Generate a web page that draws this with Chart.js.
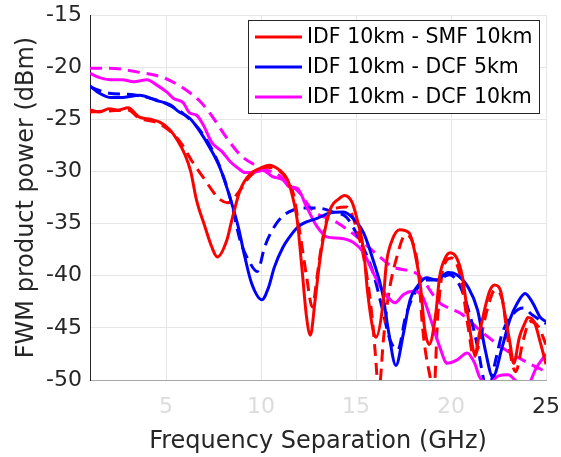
<!DOCTYPE html>
<html>
<head>
<meta charset="utf-8">
<script src="https://cdn.jsdelivr.net/npm/chart.js@4.4.0/dist/chart.umd.min.js"></script>
<style>
	html, body { margin: 0; padding: 0; background: #fff; }
</style>
</head>
<body>
<canvas id="graph-1" width="561" height="457"></canvas>
<script>
// IDF 10km - SMF 10km
const smfFreq = [1, 1.5, 2, 2.5, 3, 3.6, 4.2, 4.7, 5.2, 5.6, 6, 6.3, 6.6, 7.05, 7.4, 7.7, 8.2, 8.5, 8.9, 9.4, 9.95, 10.4, 11, 11.4, 11.7, 11.9, 12.15, 12.4, 12.6, 12.85, 13.1, 13.4, 13.7, 14.05, 14.4, 14.8, 15.1, 15.4, 15.6, 15.9, 16.05, 16.4, 16.6, 16.9, 17.3, 17.8, 18.1, 18.4, 18.6, 18.85, 19.2, 19.4, 19.7, 19.95, 20.3, 20.6, 20.85, 21.1, 21.25, 21.5, 21.8, 22.05, 22.3, 22.6, 22.8, 23.1, 23.3, 23.6, 23.9, 24.05, 24.4, 24.7, 25];
const smfPower = [-24.1, -24.3, -24.0, -24.1, -23.9, -24.8, -25.0, -25.3, -26.0, -27.0, -28.4, -30.0, -32.7, -35.3, -37.2, -38.2, -36.6, -34.4, -31.8, -30.3, -29.7, -29.4, -29.9, -30.8, -32.7, -34.6, -39.2, -44.0, -45.7, -42.3, -38.5, -35.3, -33.4, -32.7, -32.3, -33.0, -34.9, -37.5, -41.4, -45.2, -45.9, -43.0, -38.8, -36.6, -35.6, -35.9, -37.8, -41.1, -44.9, -46.6, -43.6, -40.1, -38.3, -37.8, -38.3, -40.1, -43.3, -46.4, -47.6, -45.5, -43.0, -41.4, -40.9, -41.4, -43.3, -46.4, -48.4, -45.9, -44.5, -44.0, -44.5, -46.4, -48.5];
const smfSimFreq = [1, 2, 3, 3.6, 4.5, 5.2, 5.8, 6.4, 7.05, 7.5, 7.85, 8.25, 8.9, 9.4, 10.3, 11, 11.4, 11.7, 12.05, 12.4, 12.7, 12.95, 13.2, 13.5, 14, 14.5, 15.05, 15.5, 15.85, 16, 16.2, 16.45, 16.7, 17.15, 17.6, 18, 18.3, 18.5, 18.9, 19.1, 19.3, 19.6, 20.05, 20.5, 20.9, 21.2, 21.5, 21.9, 22.3, 22.7, 23, 23.4, 23.8, 24.15, 24.6, 25];
const smfSimPower = [-24.3, -24.2, -24.1, -24.9, -25.3, -26.1, -27.3, -29.1, -30.8, -32.0, -32.7, -33.0, -31.8, -30.5, -29.6, -30.0, -30.9, -32.1, -35.9, -40.1, -43.0, -40.1, -36.9, -34.4, -33.5, -33.4, -35.6, -39.2, -44.0, -47.1, -51.0, -46.0, -42.0, -38.2, -36.1, -36.9, -39.8, -44.9, -49.7, -51.0, -44.0, -39.2, -38.3, -40.1, -44.9, -47.8, -46.4, -43.3, -41.4, -42.3, -46.2, -49.2, -46.2, -44.4, -44.9, -46.6];

// IDF 10km - DCF 5km
const dcf5Freq = [1, 1.5, 2.05, 2.75, 3.6, 4.5, 5.2, 5.7, 6.25, 6.8, 7.3, 7.85, 8.4, 8.8, 9.15, 9.5, 10.05, 10.4, 10.7, 11.15, 11.5, 11.9, 12.2, 12.95, 13.6, 14.3, 14.8, 15.4, 15.9, 16.4, 16.7, 17.1, 17.5, 17.85, 18.2, 18.7, 19.25, 19.85, 20.3, 20.9, 21.4, 21.8, 22.2, 22.7, 23.1, 23.5, 23.9, 24.3, 24.7, 25];
const dcf5Power = [-21.8, -22.5, -22.9, -22.9, -22.7, -23.2, -23.6, -24.3, -24.9, -26.2, -27.7, -29.7, -32.7, -35.3, -38.2, -40.7, -42.3, -41.1, -39.2, -37.3, -36.3, -35.4, -35.0, -34.5, -34.0, -33.9, -34.4, -35.9, -38.5, -41.7, -45.2, -48.6, -45.5, -42.3, -41.1, -40.2, -40.4, -39.7, -39.9, -41.1, -43.3, -47.1, -49.7, -46.8, -44.2, -42.6, -41.7, -42.6, -44.0, -44.4];
const dcf5SimFreq = [1, 2, 3, 4, 5, 6, 7, 7.8, 8.4, 8.9, 9.4, 9.8, 10.2, 10.7, 11.2, 11.7, 12.2, 12.95, 13.8, 14.5, 15.2, 15.9, 16.4, 16.8, 17.2, 17.6, 18, 18.7, 19.3, 19.9, 20.5, 21.2, 21.5, 21.75, 22, 22.3, 22.7, 23.3, 23.8, 24.3, 25];
const dcf5SimPower = [-21.9, -22.5, -22.6, -22.9, -23.5, -24.6, -26.6, -29.4, -32.7, -36.6, -38.7, -39.6, -37.2, -35.3, -34.2, -33.7, -33.5, -33.5, -33.9, -34.4, -36.6, -39.7, -43.3, -46.2, -47.1, -44.0, -42.0, -40.4, -40.4, -39.9, -41.1, -45.2, -47.8, -50.2, -50.8, -48.5, -45.5, -43.6, -43.1, -43.8, -44.6];

// IDF 10km - DCF 10km
const dcf10Freq = [1, 1.5, 2.05, 2.7, 3.3, 4, 4.5, 5.05, 5.4, 5.9, 6.25, 6.6, 6.95, 7.4, 7.95, 8.4, 8.8, 9.15, 9.6, 10.1, 10.6, 11.15, 11.5, 11.9, 12.4, 12.95, 13.5, 14.15, 14.85, 15.4, 15.9, 16.4, 16.8, 17.05, 17.5, 18, 18.5, 18.9, 19.4, 19.8, 20.3, 20.85, 21.25, 21.5, 22, 22.5, 23, 23.5, 24, 24.5, 25];
const dcf10Power = [-20.6, -21.0, -21.2, -21.2, -21.4, -21.2, -21.7, -22.4, -23.0, -23.4, -24.4, -24.6, -25.5, -27.2, -28.1, -29.1, -29.7, -30.1, -30.1, -29.9, -30.5, -30.8, -31.5, -31.6, -33.4, -35.3, -36.3, -36.4, -36.8, -37.8, -39.7, -41.4, -42.3, -42.6, -41.8, -41.5, -42.0, -44.0, -46.8, -48.4, -48.1, -47.4, -48.4, -49.7, -50.3, -49.6, -49.5, -50.2, -50.5, -48.8, -47.5];
const dcf10SimFreq = [1, 2, 3.6, 4.85, 5.9, 6.8, 7.5, 8.2, 8.9, 9.5, 10.2, 10.8, 11.3, 12.05, 12.7, 14, 15, 16, 17, 18.2, 19.4, 19.9, 20.5, 21.5, 22.4, 23.3, 24.2, 25];
const dcf10SimPower = [-20.1, -20.1, -20.5, -21.0, -22.0, -23.3, -24.9, -26.8, -28.4, -29.2, -29.8, -30.2, -30.9, -32.1, -33.7, -34.9, -36.2, -37.8, -39.2, -39.8, -42.6, -43.1, -43.6, -45.2, -46.5, -47.6, -48.5, -49.2];

const seriesLabels = ['IDF 10km - SMF 10km', 'IDF 10km - DCF 5km', 'IDF 10km - DCF 10km'];
const seriesColors = ['#ff0000', '#0000ff', '#ff00ff'];
const xTicks = [5, 10, 15, 20, 25];
const yTicks = [-50, -45, -40, -35, -30, -25, -20, -15];

const toPoints = (xs, ys) => xs.map((x, i) => ({ x: x, y: ys[i] }));

const fontFamily = '"DejaVu Sans", sans-serif';

function line(label, xs, ys, color, dashed) {
	return {
		label: label,
		data: toPoints(xs, ys),
		borderColor: color,
		backgroundColor: color,
		borderWidth: 3,
		borderDash: dashed ? [12, 7] : [],
		pointRadius: 0,
		cubicInterpolationMode: 'monotone',
		fill: false,
	};
}

// legend drawn as a boxed key in the top right corner
const legendBox = {
	id: 'legendBox',
	afterDraw(chart) {
		const c = chart.ctx;
		c.save();
		c.fillStyle = '#ffffff';
		c.fillRect(248.5, 20.5, 291, 93);
		c.strokeStyle = '#262626';
		c.lineWidth = 1;
		c.strokeRect(248.5, 20.5, 291, 93);
		chart.data.datasets.slice(0, 3).forEach((ds, i) => {
			const y = 37 + i * 30;
			c.strokeStyle = ds.borderColor;
			c.lineWidth = 3;
			c.beginPath();
			c.moveTo(255, y);
			c.lineTo(302, y);
			c.stroke();
			c.fillStyle = '#000000';
			c.font = '20.5px ' + fontFamily;
			c.textBaseline = 'middle';
			c.textAlign = 'left';
			c.fillText(ds.label, 307, y + 1);
		});
		c.restore();
	}
};

const ctxFirst = document.getElementById('graph-1');

const myChartFirst = new Chart(ctxFirst, {
	type: 'line',
	data: {
		datasets: [
			line(seriesLabels[0], smfFreq, smfPower, seriesColors[0], false),
			line(seriesLabels[1], dcf5Freq, dcf5Power, seriesColors[1], false),
			line(seriesLabels[2], dcf10Freq, dcf10Power, seriesColors[2], false),
			line(seriesLabels[0], smfSimFreq, smfSimPower, seriesColors[0], true),
			line(seriesLabels[1], dcf5SimFreq, dcf5SimPower, seriesColors[1], true),
			line(seriesLabels[2], dcf10SimFreq, dcf10SimPower, seriesColors[2], true),
		]
	},
	options: {
		responsive: false,
		animation: false,
		layout: {
			padding: { top: 15, right: 15, left: 0, bottom: 0 }
		},
		scales: {
			x: {
				type: 'linear',
				min: 1,
				max: 25,
				afterFit: (s) => {
					s.height = 77;
					s.paddingLeft = 0;
					s.paddingRight = 0;
				},
				afterBuildTicks: (s) => {
					s.ticks = xTicks.map(v => ({ value: v }));
				},
				ticks: {
					font: { family: fontFamily, size: 22 },
					padding: 14,
					maxRotation: 0,
					color: (c) => (c.tick && c.tick.value === 25 ? '#262626' : '#dcdcdc'),
				},
				grid: { color: '#e6e6e6', drawTicks: false },
				border: { color: '#a6a6a6' },
				title: {
					display: true,
					text: 'Frequency Separation (GHz)',
					color: '#262626',
					font: { family: fontFamily, size: 24 },
					padding: { top: 0, bottom: 1 },
				},
			},
			y: {
				min: -50,
				max: -15,
				afterFit: (s) => {
					s.width = 90;
					s.paddingTop = 0;
					s.paddingBottom = 0;
				},
				afterBuildTicks: (s) => {
					s.ticks = yTicks.map(v => ({ value: v }));
				},
				ticks: {
					font: { family: fontFamily, size: 22 },
					padding: 8,
					color: '#262626',
				},
				grid: { color: '#e6e6e6', drawTicks: false },
				border: { color: '#262626' },
				title: {
					display: true,
					text: 'FWM product power (dBm)',
					color: '#262626',
					font: { family: fontFamily, size: 24 },
					padding: { top: 12, bottom: 0 },
				},
			}
		},
		plugins: {
			legend: { display: false },
			tooltip: { enabled: false },
		}
	},
	plugins: [legendBox]
});
</script>
</body>
</html>
